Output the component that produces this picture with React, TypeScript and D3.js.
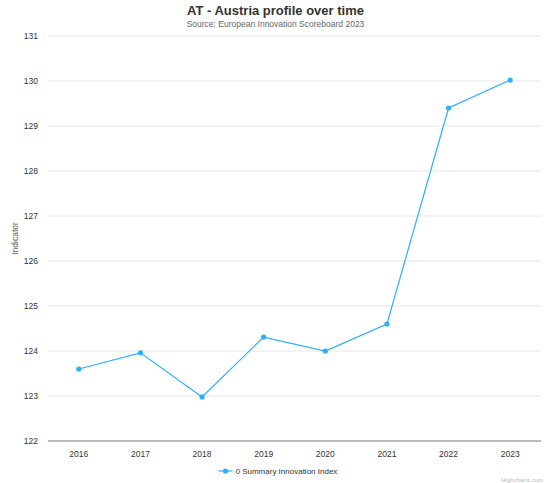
import React from 'react';
import * as d3 from 'd3';

const years = ['2016', '2017', '2018', '2019', '2020', '2021', '2022', '2023'];
const summaryIndex = [123.6, 123.96, 122.98, 124.31, 124.0, 124.6, 129.4, 130.02];
const yTicks = [122, 123, 124, 125, 126, 127, 128, 129, 130, 131];

const W = 551;
const H = 483;
const margin = { top: 36, right: 10, bottom: 42, left: 48 };
const FONT = '"Liberation Sans", Arial, Helvetica, sans-serif';
const BLUE = '#2caffe';

export default function App() {
  const x = d3.scaleBand<string>().domain(years).range([margin.left, W - margin.right]);
  const y = d3.scaleLinear().domain([122, 131]).range([H - margin.bottom, margin.top]);
  const cx = (yr: string) => (x(yr) ?? 0) + x.bandwidth() / 2;

  const line = d3.line<number>()
    .x((_, i) => cx(years[i]))
    .y((d) => y(d));

  const bottom = H - margin.bottom;

  return (
    <svg width={W} height={H} style={{ position: 'absolute', left: 0, top: 0, fontFamily: FONT }}>
      <rect width={W} height={H} fill="#fff" />
      <text x={W / 2} y={15} textAnchor="middle" fontSize={13} fontWeight="bold" fill="#333">
        AT - Austria profile over time
      </text>
      <text x={W / 2} y={27} textAnchor="middle" fontSize={8.5} fill="#666">
        Source: European Innovation Scoreboard 2023
      </text>

      {/* grid */}
      {yTicks.map((t) => (
        <g key={t}>
          {t !== 122 && (
            <line x1={margin.left} x2={W - margin.right} y1={y(t)} y2={y(t)} stroke="#e6e6e6" strokeWidth={1} />
          )}
          <text x={38} y={y(t) + 3} textAnchor="end" fontSize={8.5} fill="#333">{t}</text>
        </g>
      ))}
      <line x1={margin.left} x2={W - margin.right} y1={bottom} y2={bottom} stroke="#777" strokeWidth={1} />

      <text transform={`translate(18,${(margin.top + bottom) / 2}) rotate(-90)`} textAnchor="middle" fontSize={8.5} fill="#666">
        Indicator
      </text>

      {years.map((yr) => (
        <text key={yr} x={cx(yr)} y={bottom + 16} textAnchor="middle" fontSize={8.5} fill="#333">{yr}</text>
      ))}

      <path d={line(summaryIndex) ?? ''} fill="none" stroke={BLUE} strokeWidth={1.2} />
      {summaryIndex.map((v, i) => (
        <circle key={i} cx={cx(years[i])} cy={y(v)} r={2.6} fill={BLUE} />
      ))}

      {/* legend */}
      <g transform={`translate(${W / 2 - 50},${471})`}>
        <line x1={-7} x2={7} y1={0} y2={0} stroke={BLUE} strokeWidth={1.2} />
        <circle cx={0} cy={0} r={2.6} fill={BLUE} />
        <text x={10} y={3} fontSize={8} fill="#333">0 Summary Innovation Index</text>
      </g>

      <text x={W - 8} y={H - 1} textAnchor="end" fontSize={6} fill="#bbb">Highcharts.com</text>
    </svg>
  );
}
